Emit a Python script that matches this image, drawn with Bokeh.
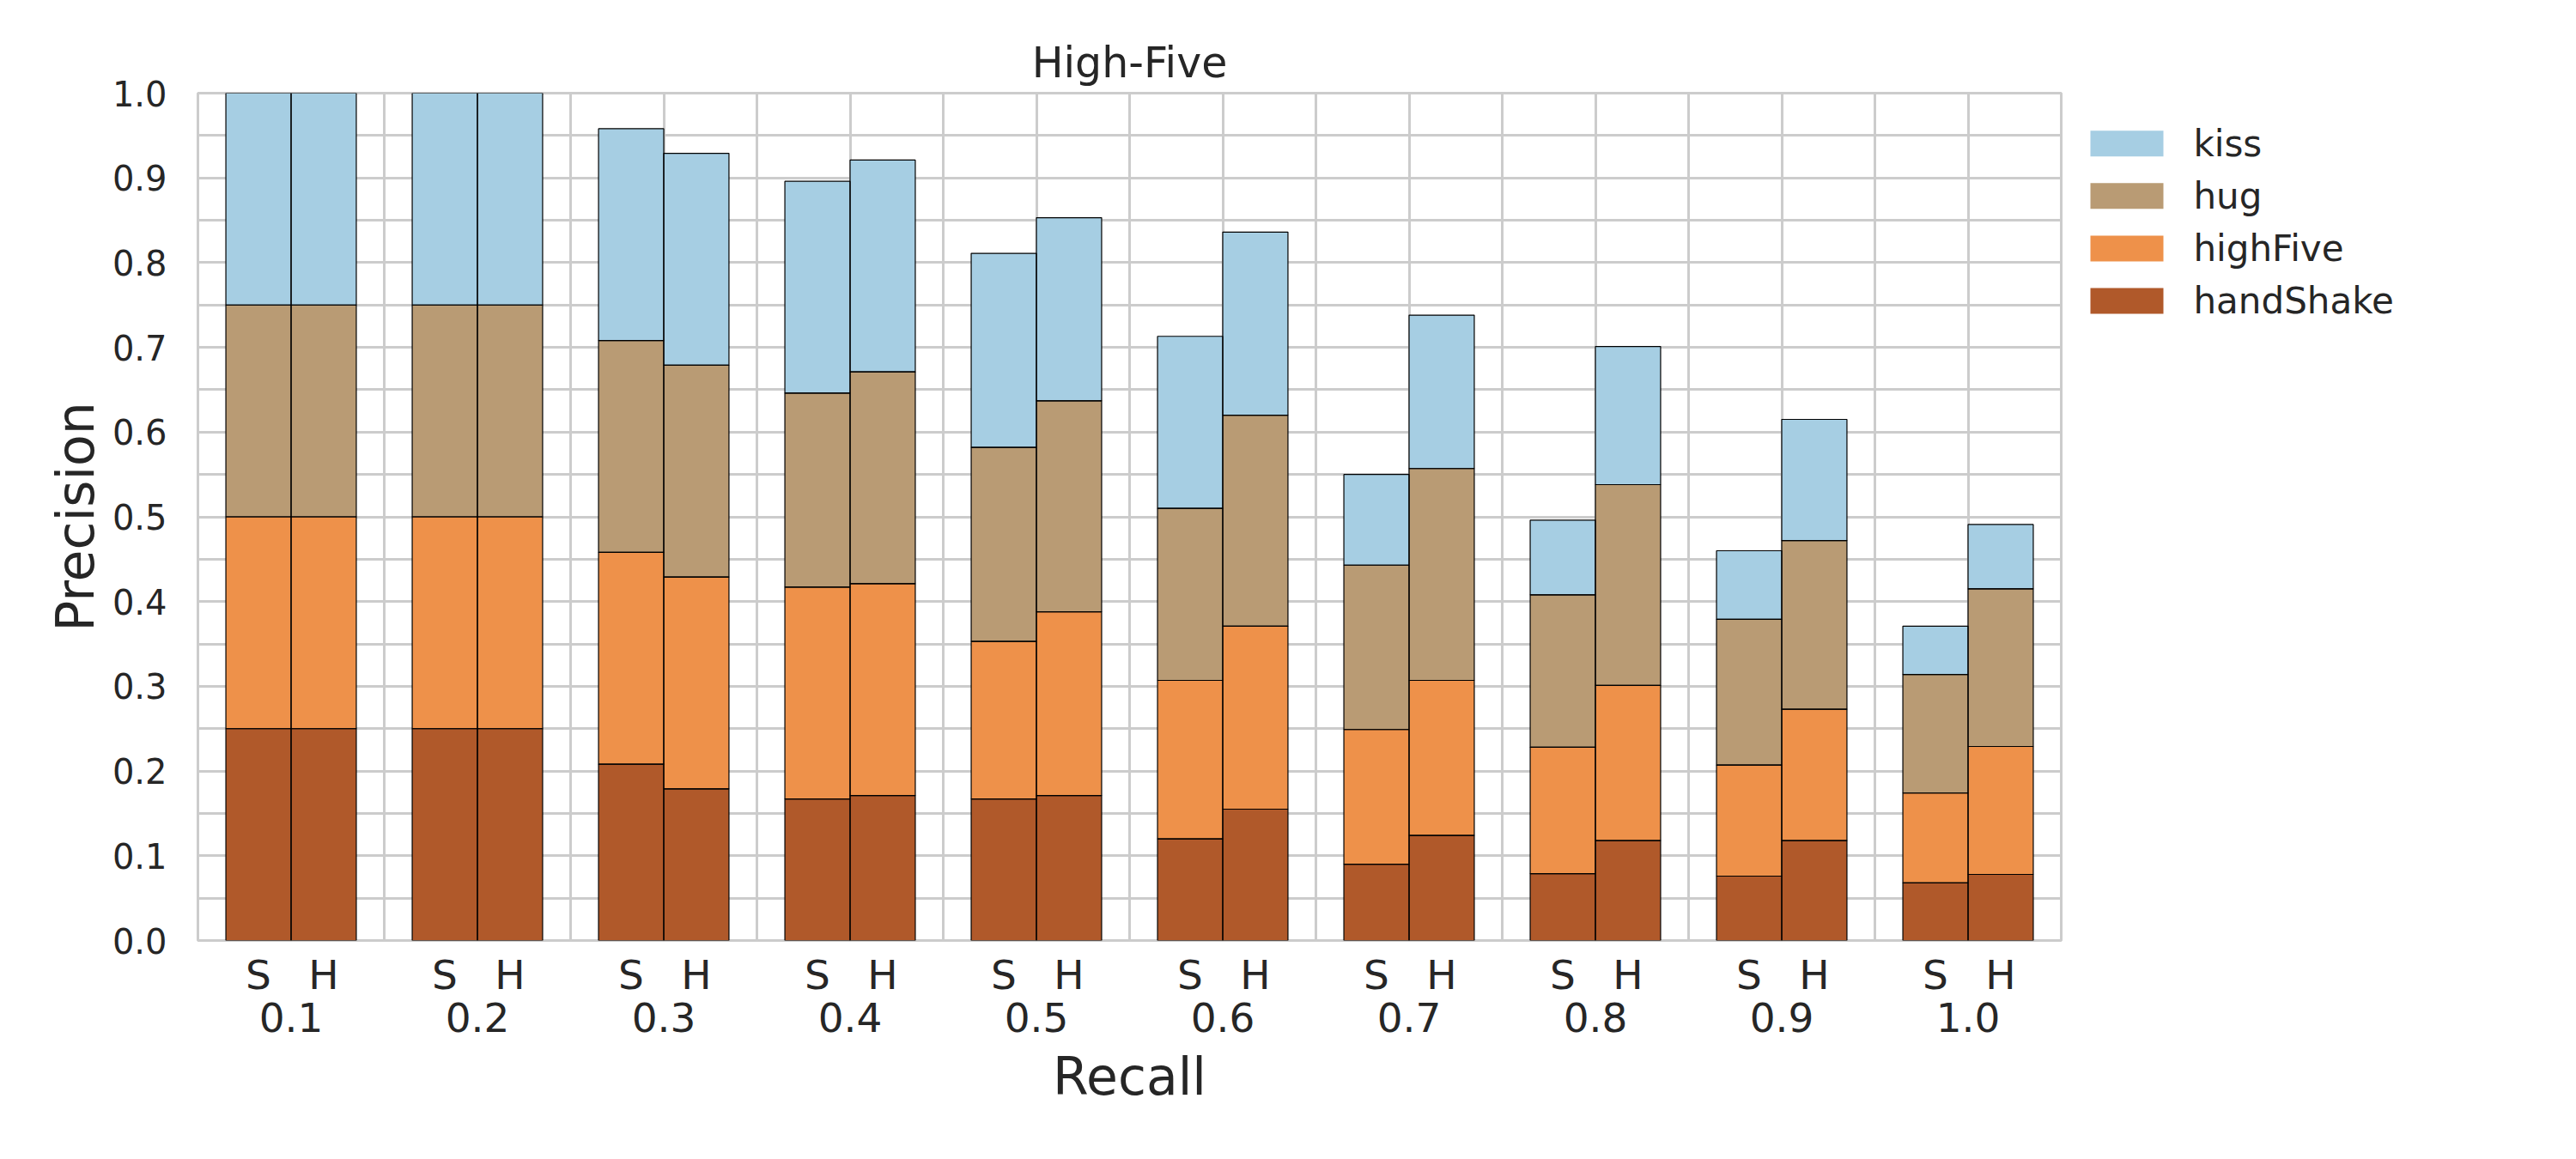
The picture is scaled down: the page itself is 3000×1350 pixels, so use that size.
from bokeh.plotting import figure
from bokeh.layouts import row
from bokeh.models import (ColumnDataSource, FixedTicker, LinearAxis, NumeralTickFormatter,
                          Range1d, Grid)
from bokeh.core.properties import value
from bokeh.embed import file_html
from bokeh.resources import INLINE

# ---------------- data ----------------
recall = ["0.1", "0.2", "0.3", "0.4", "0.5", "0.6", "0.7", "0.8", "0.9", "1.0"]
series = ["handShake", "highFive", "hug", "kiss"]          # stacking order (bottom -> top)
legend_order = ["kiss", "hug", "highFive", "handShake"]
colors = {"handShake": "#b0592a", "highFive": "#ee914a", "hug": "#b99b74", "kiss": "#a6cee3"}

# "S" bars (segment heights)
S_handShake = [0.250, 0.250, 0.208, 0.167, 0.167, 0.120, 0.090, 0.079, 0.076, 0.068]
S_highFive  = [0.250, 0.250, 0.250, 0.250, 0.186, 0.187, 0.159, 0.149, 0.131, 0.106]
S_hug       = [0.250, 0.250, 0.250, 0.229, 0.229, 0.203, 0.194, 0.180, 0.172, 0.140]
S_kiss      = [0.250, 0.250, 0.250, 0.250, 0.229, 0.203, 0.107, 0.088, 0.081, 0.057]

# "H" bars (segment heights)
H_handShake = [0.250, 0.250, 0.179, 0.171, 0.171, 0.155, 0.124, 0.118, 0.118, 0.078]
H_highFive  = [0.250, 0.250, 0.250, 0.250, 0.217, 0.216, 0.183, 0.183, 0.155, 0.151]
H_hug       = [0.250, 0.250, 0.250, 0.250, 0.249, 0.249, 0.250, 0.237, 0.199, 0.186]
H_kiss      = [0.250, 0.250, 0.250, 0.250, 0.216, 0.216, 0.181, 0.163, 0.143, 0.076]

sub_labels = ["S", "H"]
y_ticks = [0.0, 0.1, 0.2, 0.3, 0.4, 0.5, 0.6, 0.7, 0.8, 0.9, 1.0]

# ---------------- layout ----------------
BAR_W = 0.35
FONT = "DejaVu Sans"
TXT = "#262626"
GRID = "#cccccc"
TOTAL_W, H = 2984, 1334
BL, BR, BT, BB = 230, 10, 108, 239
FW = 2170
W = BL + FW + BR
FH = H - BT - BB
LW = TOTAL_W - W            # legend panel width

n = len(recall)
centers = [i + 0.5 for i in range(n)]
xS = [c - BAR_W / 2 for c in centers]
xH = [c + BAR_W / 2 for c in centers]

srcS = ColumnDataSource(dict(x=xS, handShake=S_handShake, highFive=S_highFive, hug=S_hug, kiss=S_kiss))
srcH = ColumnDataSource(dict(x=xH, handShake=H_handShake, highFive=H_highFive, hug=H_hug, kiss=H_kiss))

p = figure(width=W, height=H, output_backend="svg", toolbar_location=None,
           x_range=Range1d(0, n), y_range=Range1d(0, 1),
           x_axis_location=None, y_axis_location="left",
           min_border_left=BL, min_border_right=BR, min_border_top=BT, min_border_bottom=BB)
p.xgrid.visible = False

p.title.text = "High-Five"
p.title.align = "center"
p.title.text_font = FONT
p.title.text_font_size = "49px"
p.title.text_font_style = "normal"
p.title.text_color = TXT
p.title.standoff = 14

p.outline_line_color = GRID
p.outline_line_width = 3
p.background_fill_color = "white"
p.border_fill_color = "white"

# y axis
yax = p.yaxis[0]
yax.ticker = FixedTicker(ticks=y_ticks, minor_ticks=[round(k * 0.05, 2) for k in range(21)])
yax.formatter = NumeralTickFormatter(format="0.0")
yax.axis_line_color = None
yax.major_tick_line_color = None
yax.minor_tick_line_color = None
yax.major_label_text_font = FONT
yax.major_label_text_font_size = "40px"
yax.major_label_text_color = TXT
yax.major_label_standoff = 30
yax.axis_label = "Precision"
yax.axis_label_text_font = FONT
yax.axis_label_text_font_size = "60px"
yax.axis_label_text_font_style = "normal"
yax.axis_label_text_color = TXT
yax.axis_label_standoff = 5

p.ygrid.grid_line_color = GRID
p.ygrid.grid_line_width = 3
p.ygrid.minor_grid_line_color = GRID
p.ygrid.minor_grid_line_width = 3
p.ygrid.level = "underlay"

# vertical grid at group centres and boundaries
p.add_layout(Grid(dimension=0, ticker=FixedTicker(ticks=[k * 0.5 for k in range(2 * n + 1)]),
                  grid_line_color=GRID, grid_line_width=3, level="underlay"))

# x axis 1: S / H
sub_ticks = []
sub_over = {}
for i in range(n):
    for t, lab in zip((xS[i], xH[i]), sub_labels):
        sub_ticks.append(t)
        sub_over[t] = lab
ax1 = LinearAxis(ticker=FixedTicker(ticks=sub_ticks), major_label_overrides=sub_over,
                 axis_line_color=None, major_tick_line_color=None, minor_tick_line_color=None,
                 major_label_text_font=FONT, major_label_text_font_size="47px",
                 major_label_text_color=TXT, major_label_standoff=6)
p.add_layout(ax1, "below")

# x axis 2: recall groups
grp_over = {c: r for c, r in zip(centers, recall)}
ax2 = LinearAxis(ticker=FixedTicker(ticks=centers), major_label_overrides=grp_over,
                 axis_line_color=None, major_tick_line_color=None, minor_tick_line_color=None,
                 major_label_text_font=FONT, major_label_text_font_size="47px",
                 major_label_text_color=TXT, major_label_standoff=-4,
                 axis_label="Recall", axis_label_text_font=FONT, axis_label_text_font_size="60px",
                 axis_label_text_font_style="normal", axis_label_text_color=TXT,
                 axis_label_standoff=14)
p.add_layout(ax2, "below")

# bars: fills, then black outlines on top
fills = [colors[s] for s in series]
p.vbar_stack(series, x="x", width=BAR_W, source=srcS, fill_color=fills, line_color=None)
p.vbar_stack(series, x="x", width=BAR_W, source=srcH, fill_color=fills, line_color=None)
p.vbar_stack(series, x="x", width=BAR_W, source=srcS, fill_color=None,
             line_color="black", line_width=1.2)
p.vbar_stack(series, x="x", width=BAR_W, source=srcH, fill_color=None,
             line_color="black", line_width=1.2)

# ---------------- legend panel (separate figure to the right) ----------------
# its frame spans the same rows as the main frame; y is measured downward from the frame top
leg = figure(width=LW, height=H, output_backend="svg", toolbar_location=None,
             x_range=Range1d(0, LW), y_range=Range1d(FH, 0),
             x_axis_location=None, y_axis_location=None,
             min_border_left=0, min_border_right=0, min_border_top=BT, min_border_bottom=BB)
leg.xgrid.visible = False
leg.ygrid.visible = False
leg.outline_line_color = None
leg.background_fill_color = "white"
leg.border_fill_color = "white"

SW_X0, SW_W, SW_H = 24, 85, 30
TXT_X = 144
ROW0, PITCH = 58.7, 61.1
rows_y = [ROW0 + k * PITCH for k in range(len(legend_order))]
leg_src = ColumnDataSource(dict(
    x=[SW_X0 + SW_W / 2] * len(legend_order),
    tx=[TXT_X] * len(legend_order),
    y=rows_y,
    label=legend_order,
    color=[colors[s] for s in legend_order],
))
leg.rect(x="x", y="y", width=SW_W, height=SW_H, fill_color="color", line_color=None, source=leg_src)
leg.text(x="tx", y="y", text="label", source=leg_src, text_font=value(FONT),
         text_font_size=value("42px"), text_color=TXT, text_baseline="middle", text_align="left")

layout = row(p, leg)
open("out.html", "w").write(file_html(layout, INLINE))
